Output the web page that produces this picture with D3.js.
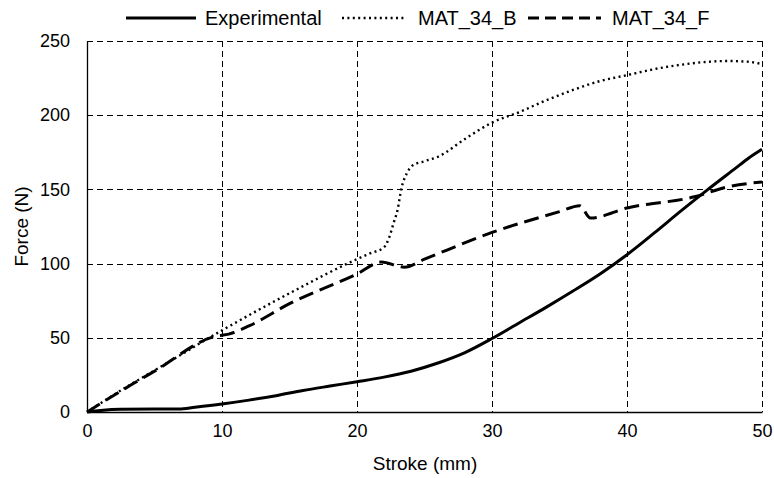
<!DOCTYPE html>
<html><head><meta charset="utf-8">
<script src="https://cdn.jsdelivr.net/npm/d3@7"></script>
<style>
body{margin:0;background:#fff;}
text{font-family:"Liberation Sans",Arial,sans-serif;fill:#000;}
</style></head>
<body><svg id="c" width="774" height="478"></svg>
<script>
const xTicks = [0, 10, 20, 30, 40, 50];
const yTicks = [0, 50, 100, 150, 200, 250];
const seriesNames = ["Experimental", "MAT_34_B", "MAT_34_F"];

const expStroke = [0, 1, 2.5, 5, 6.8, 8, 10, 12, 14, 16, 18, 20, 22, 24, 26, 28, 30, 32, 34, 36, 38, 40, 42, 44, 46, 48, 49, 50];
const expForce  = [0, 1, 1.8, 2, 2, 3.2, 5.4, 8, 11, 14.5, 17.5, 20.4, 23.5, 27.5, 33, 40, 49.5, 60, 70.5, 81.5, 93, 106, 120.5, 135.5, 150, 164, 171, 177];

const bStroke = [0, 3.4, 5, 10, 15, 20, 21, 22, 22.4, 22.7, 23, 23.3, 23.7, 24.1, 25, 26, 28, 30, 32, 34, 36, 38, 40, 42, 44, 46, 47.5, 49, 50];
const bForce  = [0, 19.5, 28, 55, 80, 103, 107, 111, 118, 127, 136, 151, 161, 166, 169, 172, 184, 195, 202, 210, 217, 223, 227, 231, 234, 236, 236.5, 236, 234.5];

const fStroke = [0, 3.4, 5, 9.5, 10.5, 12, 15, 20, 21.8, 23.5, 25, 30, 35, 36.5, 37.3, 40, 45, 47.5, 50];
const fForce  = [0, 19, 27.5, 51, 52.5, 58, 73, 93, 101, 97.6, 103, 121, 135, 139, 130.7, 137.5, 145, 151.8, 155];

const svg = d3.select("#c");
const x = d3.scaleLinear().domain([0, 50]).range([87, 762]);
const y = d3.scaleLinear().domain([0, 250]).range([412, 41]);

// grid
const grid = svg.append("g").attr("stroke", "#000").attr("stroke-width", 1).attr("stroke-dasharray", "6,4").attr("shape-rendering","crispEdges");
xTicks.filter(t => t > 0).forEach(t => grid.append("line").attr("x1", Math.round(x(t))+0.5).attr("x2", Math.round(x(t))+0.5).attr("y1", y(250)).attr("y2", y(0)));
yTicks.filter(t => t > 0).forEach(t => grid.append("line").attr("y1", Math.round(y(t))+0.5).attr("y2", Math.round(y(t))+0.5).attr("x1", x(0)).attr("x2", x(50)));

// axes
const xa = svg.append("g").attr("transform", `translate(0,${y(0)})`)
  .call(d3.axisBottom(x).tickValues(xTicks).tickSize(0).tickPadding(12).tickFormat(d3.format("d")));
xa.select(".domain").attr("stroke", "#000").attr("stroke-width", 1.3);
xa.selectAll("text").style("font-size", "18px").style("font-family", "Liberation Sans, Arial, sans-serif");

const ya = svg.append("g").attr("transform", `translate(${x(0)},0)`)
  .call(d3.axisLeft(y).tickValues(yTicks).tickSize(0).tickPadding(17).tickFormat(d3.format("d")));
ya.select(".domain").attr("stroke", "#000").attr("stroke-width", 1.3);
ya.selectAll("text").style("font-size", "18px").style("font-family", "Liberation Sans, Arial, sans-serif");

// titles
svg.append("text").attr("x", 425).attr("y", 470).attr("text-anchor", "middle").style("font-size", "19px").text("Stroke (mm)");
svg.append("text").attr("transform", `translate(28,${(y(0)+y(250))/2}) rotate(-90)`).attr("text-anchor", "middle").style("font-size", "19px").text("Force (N)");

// lines
const line = d3.line().x(d => x(d[0])).y(d => y(d[1])).curve(d3.curveMonotoneX);
const zip = (a, b) => a.map((v, i) => [v, b[i]]);
const styles = [
  {w: 3, dash: null},
  {w: 2.4, dash: "2,3.4"},
  {w: 3, dash: "15,7"}
];
const data = [zip(expStroke, expForce), zip(bStroke, bForce), zip(fStroke, fForce)];
data.forEach((d, i) => {
  const p = svg.append("path").datum(d).attr("d", line).attr("fill", "none").attr("stroke", "#000")
    .attr("stroke-width", styles[i].w).attr("stroke-linejoin", "round");
  if (styles[i].dash) p.attr("stroke-dasharray", styles[i].dash);
});

// legend
const legY = 18;
const leg = [
  {x1: 126, x2: 196, tx: 205},
  {x1: 342, x2: 404, tx: 418},
  {x1: 528, x2: 601, tx: 612}
];
const legDash = [null, "2,3.4", "11,6"];
leg.forEach((l, i) => {
  const ln = svg.append("line").attr("x1", l.x1).attr("x2", l.x2).attr("y1", legY).attr("y2", legY)
    .attr("stroke", "#000").attr("stroke-width", styles[i].w);
  if (legDash[i]) ln.attr("stroke-dasharray", legDash[i]);
  svg.append("text").attr("x", l.tx).attr("y", legY + 7).style("font-size", "20px").text(seriesNames[i]);
});
</script></body></html>
